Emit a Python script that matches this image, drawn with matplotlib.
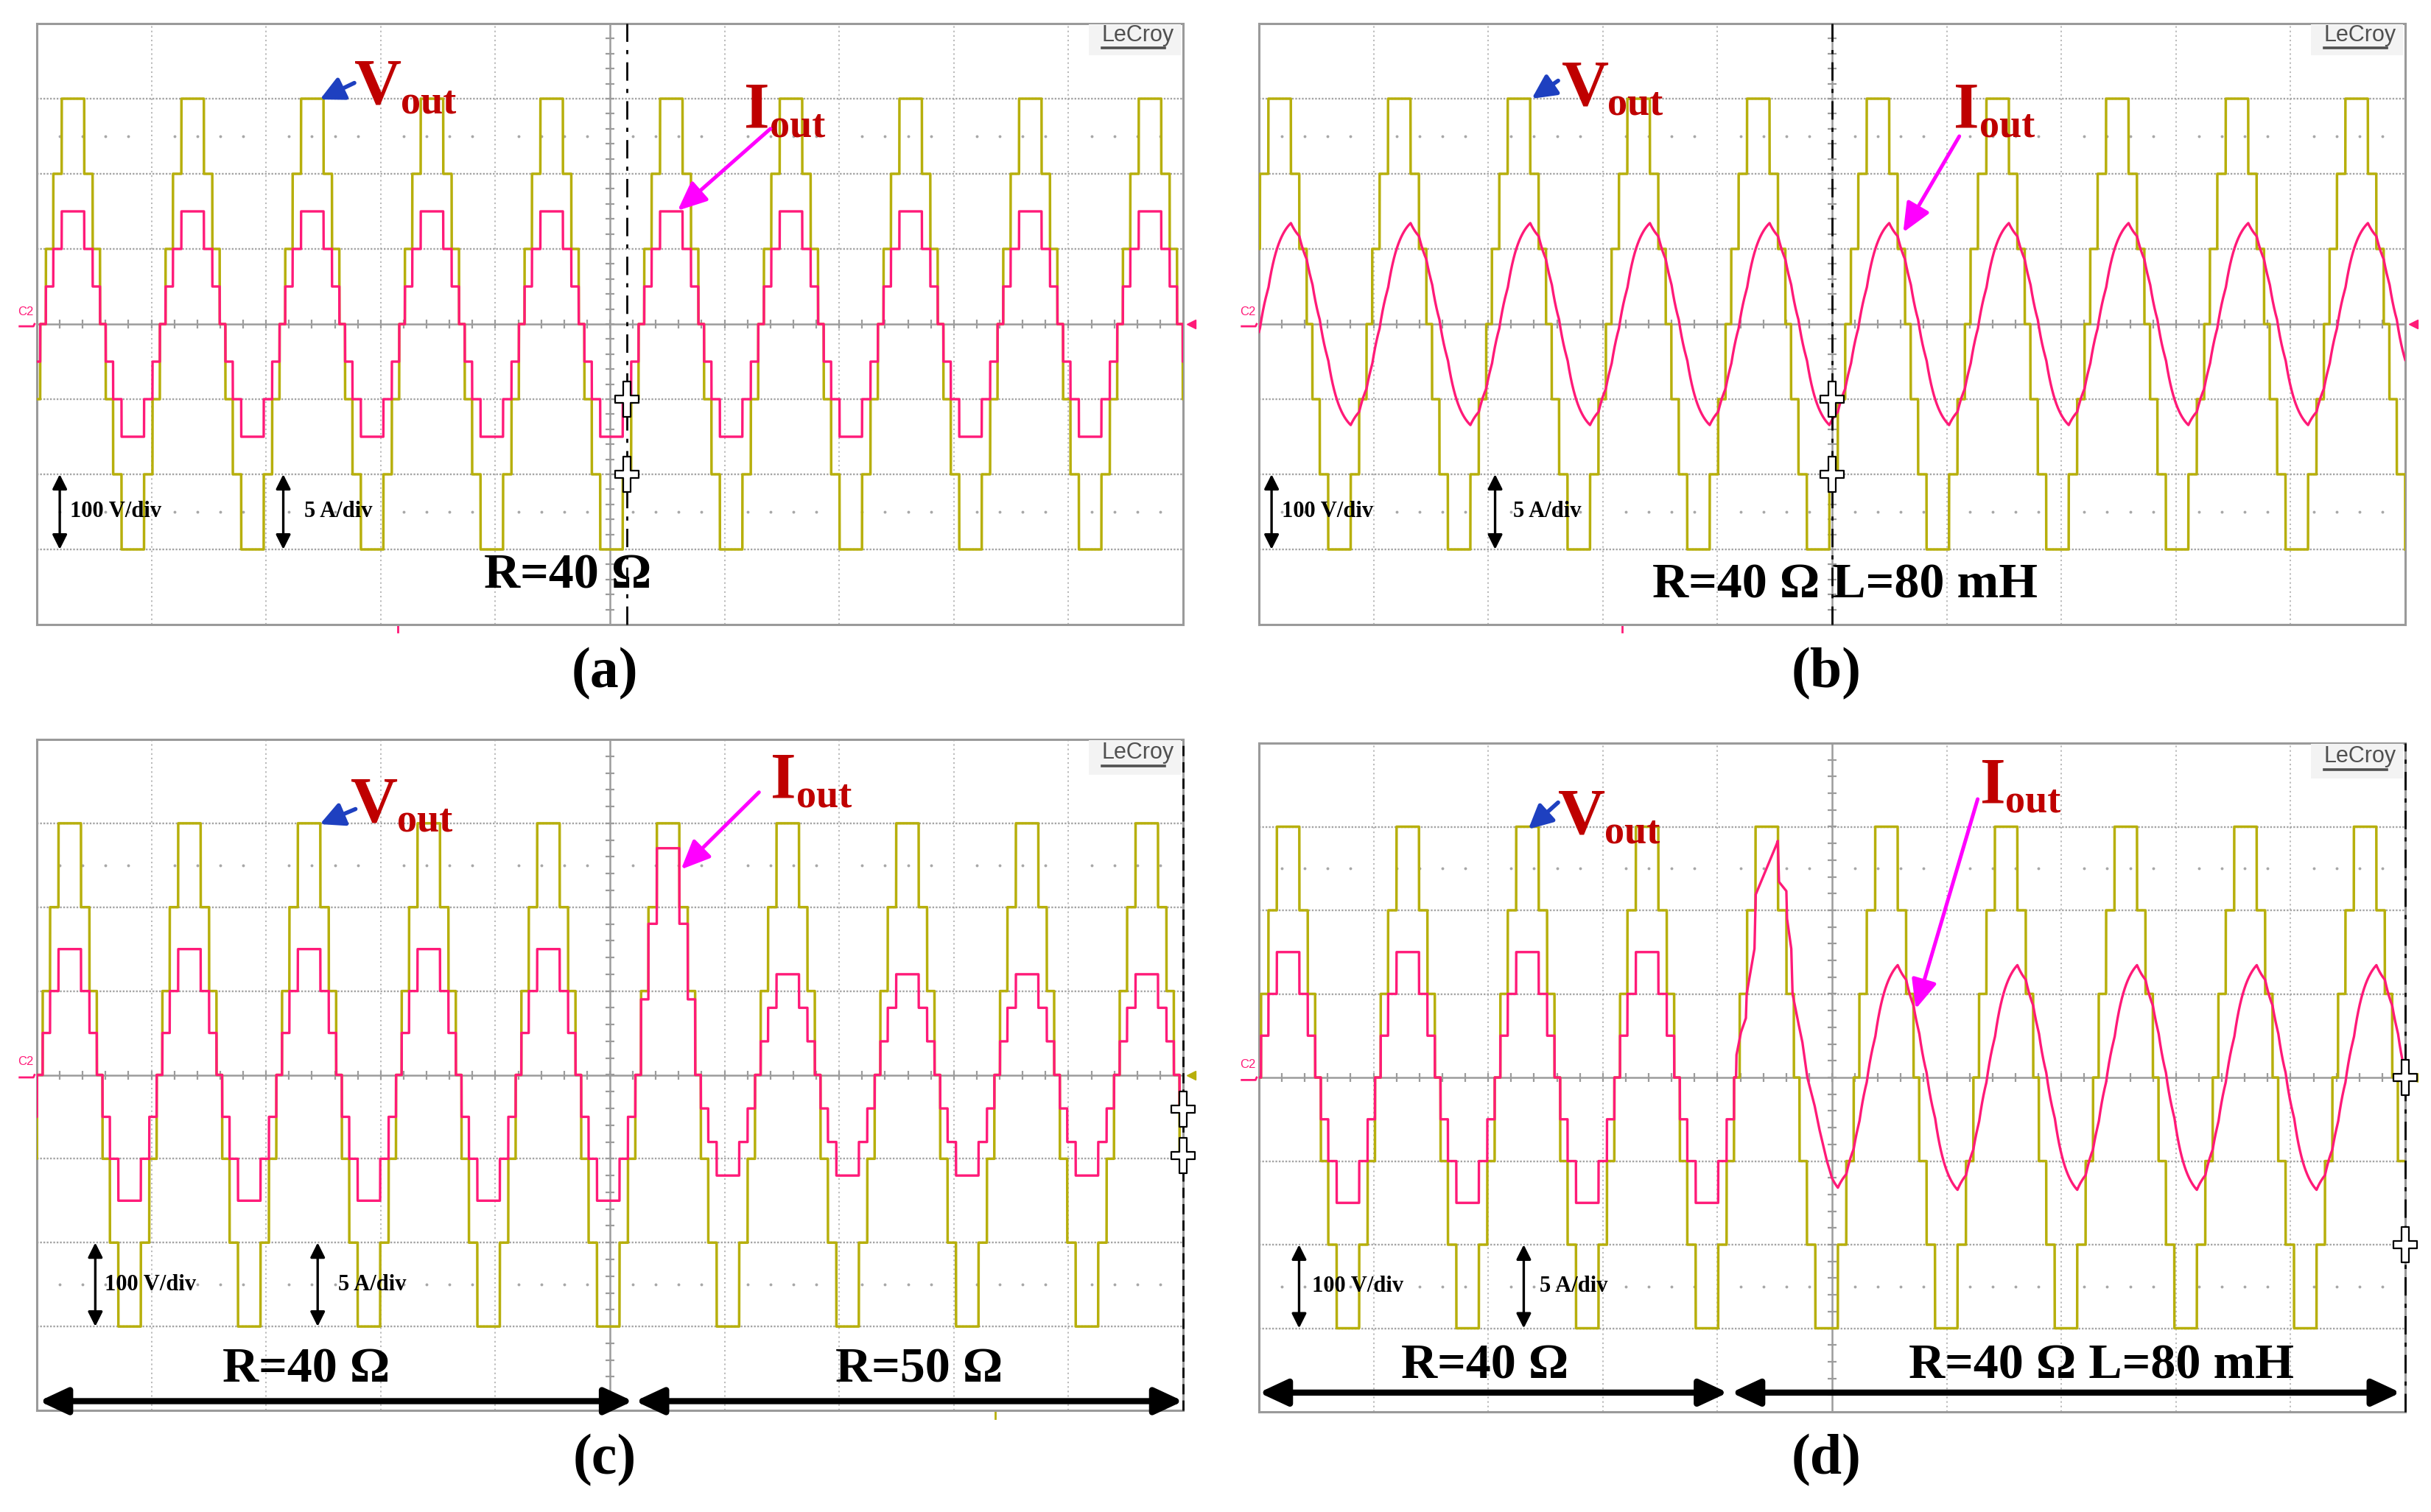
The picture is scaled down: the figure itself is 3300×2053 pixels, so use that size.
import numpy as np
import matplotlib
matplotlib.use("Agg")
import matplotlib.pyplot as plt
from matplotlib.path import Path
from matplotlib.patches import Rectangle

plt.rcParams['font.family'] = ['Liberation Serif', 'DejaVu Serif']

# ======================= DATA (oscilloscope screen divisions) =======================
PERIOD_DIV = 1.044                     # one fundamental period on screen (div)
SWITCH_ANGLES_DEG = [8.5, 30.8, 56.2]  # 7-level staircase switching angles
VOLT_STEP_V = 100.0                    # voltage per level (V)
V_PER_DIV = 100.0
A_PER_DIV = 5.0
FREQ_HZ = 50.0
L_MH = 80.0

PANEL_KEYS = ["a", "b", "c", "d"]
PANEL_LETTERS = ["(a)", "(b)", "(c)", "(d)"]
FIRST_PEAK_DIV = [0.315, 0.18, 0.287, 0.254]   # position of first positive Vout plateau

R_A = 40.0                     # (a) resistive load
R_B = 40.0                     # (b) R-L load
C_SEG_START_DIV = [0.0, 5.245, 5.767]   # (c) load change
C_SEG_R_OHM = [40.0, 22.2, 50.0]
R_D = 40.0                     # (d) R then R-L
D_TRANS_T_DIV = [4.162, 4.166, 4.205, 4.248, 4.255, 4.323, 4.334, 4.516, 4.526, 4.537,
                 4.601, 4.607, 4.644, 4.655, 4.709, 4.741, 4.784, 4.848, 4.891, 4.955, 4.998]
D_TRANS_I_DIV = [0.00, 0.27, 0.54, 0.71, 1.00, 1.54, 2.19, 2.79, 2.83, 2.34,
                 2.23, 1.90, 1.54, 1.00, 0.63, 0.42, 0.00, -0.34, -0.63, -1.00, -1.20]

LOAD_TEXTS = {"a": [("R=40 Ω", 4.63, -3.35)],
              "b": [("R=40 Ω L=80 mH", 5.11, -3.48)],
              "c": [("R=40 Ω", 2.35, -3.52), ("R=50 Ω", 7.70, -3.52)],
              "d": [("R=40 Ω", 1.97, -3.45), ("R=40 Ω L=80 mH", 7.35, -3.45)]}
SPAN_ARROWS = {"c": ([(0.02, 5.20), (5.22, 10.0)], -3.89),
               "d": ([(0.0, 4.09), (4.12, 9.96)], -3.77)}
SCALE_LABELS = ["100 V/div", "5 A/div"]
SCALE_ARROW_X = {"a": [0.20, 2.15], "b": [0.11, 2.06], "c": [0.51, 2.45], "d": [0.35, 2.31]}
SCALE_TEXT_X = {"a": [0.29, 2.33], "b": [0.20, 2.22], "c": [0.59, 2.63], "d": [0.46, 2.45]}
VOUT_POS = {"a": (2.77, 2.94), "b": (2.64, 2.92), "c": (2.74, 3.02), "d": (2.61, 2.92)}
VOUT_ARROW = {"a": ((2.77, 3.21), (2.47, 2.99)), "b": ((2.61, 3.24), (2.38, 3.00)),
              "c": ((2.78, 3.17), (2.47, 2.99)), "d": ((2.61, 3.29), (2.35, 2.97))}
IOUT_POS = {"a": (6.17, 2.62), "b": (6.06, 2.62), "c": (6.40, 3.31), "d": (6.29, 3.29)}
IOUT_ARROW = {"a": ((6.40, 2.60), (5.59, 1.51)), "b": ((6.11, 2.50), (5.62, 1.22)),
              "c": ((6.30, 3.37), (5.62, 2.45)), "d": ((6.27, 3.33), (5.73, 0.82))}
CURSOR_X = {"a": 5.15, "b": 5.0, "c": 10.0, "d": 10.0}
CURSOR_STYLE = {"a": (0, (9, 4, 2, 4)), "b": (0, (9, 4, 2, 4)), "c": (0, (5, 3)), "d": (0, (9, 4, 2, 4))}
CURSOR_CROSS_Y = {"a": [-1.0, -2.0], "b": [-1.0, -2.0], "c": [-0.41, -0.96], "d": [0.0, -2.0]}
TRIG_MARK = {"a": (3.15, "pink"), "b": (3.17, "pink"), "c": (8.36, "olive")}
ZERO_MARK_COLOR = {"a": "pink", "b": "pink", "c": "olive", "d": "olive"}

# ======================= STYLE / LAYOUT =======================
OLIVE = "#B7AF0C"
PINK = "#FF1A78"
LABEL_RED = "#BF0000"
BLUE = "#1E40C0"
MAGENTA = "#FF00FF"
COLS = {"olive": OLIVE, "pink": PINK}
FIG_W, FIG_H = 3300, 2053
AX_BOX = {"a": (50, 32, 1556, 816), "b": (1709, 32, 1556, 816),
          "c": (50, 1004, 1556, 911), "d": (1709, 1009, 1556, 908)}
LETTER_POS = {"a": (821, 915), "b": (2479, 915), "c": (821, 1983), "d": (2479, 1983)}

DT = 0.0005
T = np.arange(0.0, 10.0 + DT / 2, DT)


def staircase(t, t_peak):
    ph = ((t - t_peak) / PERIOD_DIV * 360.0 + 180.0) % 360.0 - 180.0
    a = np.abs(ph)
    lev = np.zeros_like(t)
    for th in SWITCH_ANGLES_DEG:
        lev += (a < 90.0 - th)
        lev -= (a > 90.0 + th)
    return lev * VOLT_STEP_V / V_PER_DIV


def rl_current(t, v_div, r_ohm, l_mh, i0):
    tau = l_mh * 1e-3 / r_ohm * FREQ_HZ * PERIOD_DIV
    k = np.exp(-(t[1] - t[0]) / tau)
    iss = v_div * V_PER_DIV / r_ohm / A_PER_DIV
    i = np.empty_like(t)
    i[0] = i0
    for n in range(1, len(t)):
        i[n] = i[n - 1] * k + iss[n - 1] * (1 - k)
    return i


def traces(key, t_peak):
    v = staircase(T, t_peak)
    if key == "a":
        return T, v, T, v * V_PER_DIV / R_A / A_PER_DIV
    if key == "b":
        tt = np.arange(-4 * PERIOD_DIV, 10.0 + DT / 2, DT)
        ii = rl_current(tt, staircase(tt, t_peak), R_B, L_MH, 0.0)
        m = tt >= 0
        return T, v, tt[m], ii[m]
    if key == "c":
        r = np.full_like(T, C_SEG_R_OHM[0])
        for s, rv in zip(C_SEG_START_DIV, C_SEG_R_OHM):
            r[T >= s] = rv
        return T, v, T, v * V_PER_DIV / r / A_PER_DIV
    # key == "d"
    t_pre = T[T < D_TRANS_T_DIV[0]]
    i_pre = staircase(t_pre, t_peak) * V_PER_DIV / R_D / A_PER_DIV
    t_post = np.arange(D_TRANS_T_DIV[-1], 10.0 + DT / 2, DT)
    i_post = rl_current(t_post, staircase(t_post, t_peak), R_D, L_MH, D_TRANS_I_DIV[-1])
    ti = np.concatenate([t_pre, D_TRANS_T_DIV, t_post[1:]])
    ii = np.concatenate([i_pre, D_TRANS_I_DIV, i_post[1:]])
    return T, v, ti, ii


aw = 0.30
CROSS = Path([(-aw, 1.45), (aw, 1.45), (aw, aw), (1, aw), (1, -aw), (aw, -aw), (aw, -1.45),
              (-aw, -1.45), (-aw, -aw), (-1, -aw), (-1, aw), (-aw, aw), (-aw, 1.45)], closed=True)

fig = plt.figure(figsize=(FIG_W / 100, FIG_H / 100), dpi=100)

for idx, key in enumerate(PANEL_KEYS):
    x0, y0, w, h = AX_BOX[key]
    ax = fig.add_axes([x0 / FIG_W, 1 - (y0 + h) / FIG_H, w / FIG_W, h / FIG_H])
    ax.set_xlim(0, 10)
    ax.set_ylim(-4, 4)
    ax.set_xticks([])
    ax.set_yticks([])
    for s in ax.spines.values():
        s.set_color("#9a9a9a")
        s.set_linewidth(2.2)

    # graticule
    for gx in range(1, 10):
        if gx != 5:
            ax.axvline(gx, color="#b4b4b4", lw=1.3, ls=(0, (1.2, 2.2)), zorder=1)
    for gy in [-3, -2, -1, 1, 2, 3]:
        ax.axhline(gy, color="#a4a4a4", lw=1.7, ls=(0, (1, 0.9)), zorder=1)
    sx = np.array([x for x in np.arange(0.2, 10.0, 0.2) if abs(x - round(x)) > 1e-6])
    for gy in (-2.5, 2.5):
        ax.plot(sx, np.full_like(sx, gy), ls="none", marker="o", ms=1.8, color="#a8a8a8", zorder=1)
    ax.axhline(0, color="#9c9c9c", lw=1.8, zorder=1.5)
    ax.axvline(5, color="#9c9c9c", lw=1.8, zorder=1.5)
    tx = np.arange(0.2, 10.0, 0.2)
    ax.plot(tx, np.zeros_like(tx), ls="none", marker="|", ms=9, mew=1.6, color="#9c9c9c", zorder=1.5)
    ty = np.arange(-3.8, 3.9, 0.2)
    ax.plot(np.full_like(ty, 5.0), ty, ls="none", marker="_", ms=9, mew=1.6, color="#9c9c9c", zorder=1.5)

    # traces
    tv, v, ti, ii = traces(key, FIRST_PEAK_DIV[idx])
    ax.plot(tv, v, color=OLIVE, lw=2.5, zorder=3)
    ax.plot(ti, ii, color=PINK, lw=2.4, zorder=4)

    # LeCroy logo
    ax.add_patch(Rectangle((9.18, 3.58), 0.80, 0.41, facecolor="#f3f3f3", edgecolor="none", zorder=5))
    ax.text(9.29, 3.84, "LeCroy", family="Liberation Sans", fontsize=22, color="#505050",
            ha="left", va="center", zorder=6)
    ax.plot([9.29, 9.84], [3.68, 3.68], color="#505050", lw=2.6, zorder=6)

    # C2 marker and right zero marker
    ax.text(-0.10, 0.09, "C2", family="Liberation Sans", fontsize=12, color=PINK,
            ha="center", va="bottom", clip_on=False)
    ax.plot([-0.15, -0.03, -0.02], [-0.03, -0.03, 0.0], color=PINK, lw=2.0, clip_on=False)
    ax.plot([10.07], [0.0], marker="<", ms=8, color=COLS[ZERO_MARK_COLOR[key]], clip_on=False, ls="none")
    if key in TRIG_MARK:
        mx, mc = TRIG_MARK[key]
        ax.plot([mx, mx], [-4.0, -4.1], color=COLS[mc], lw=2.0, clip_on=False)

    # cursor line and crosses
    ax.axvline(CURSOR_X[key], color="black", lw=2.0, ls=CURSOR_STYLE[key], zorder=6, clip_on=False)
    cy = CURSOR_CROSS_Y[key]
    ax.plot([CURSOR_X[key]] * len(cy), cy, ls="none", marker=CROSS, ms=34, mfc="white",
            mec="black", mew=1.6, zorder=7, clip_on=False)

    # scale arrows / labels
    for xa, xt, lab in zip(SCALE_ARROW_X[key], SCALE_TEXT_X[key], SCALE_LABELS):
        ax.annotate("", xy=(xa, -2.0), xytext=(xa, -3.0),
                    arrowprops=dict(arrowstyle="<|-|>,head_length=0.6,head_width=0.3",
                                    color="black", lw=2.4, mutation_scale=20, shrinkA=0, shrinkB=0),
                    zorder=8)
        ax.text(xt, -2.5, lab, fontsize=22, fontweight="bold", ha="left", va="center", zorder=8)

    # load texts
    for txt, lx, ly in LOAD_TEXTS[key]:
        ax.text(lx, ly, txt, fontsize=49, fontweight="bold", ha="center", va="center", zorder=8)
    if key in SPAN_ARROWS:
        spans, sy = SPAN_ARROWS[key]
        for sa, sb in spans:
            ax.annotate("", xy=(sb, sy), xytext=(sa, sy), annotation_clip=False,
                        arrowprops=dict(arrowstyle="<|-|>,head_length=0.58,head_width=0.27",
                                        color="black", lw=6, mutation_scale=40, shrinkA=0, shrinkB=0),
                        zorder=8)

    # Vout / Iout labels
    vx, vy = VOUT_POS[key]
    ax.text(vx, vy, "V", fontsize=64, fontweight="bold", color=LABEL_RED, ha="left", va="baseline", zorder=9)
    ax.annotate("out", xy=(vx, vy), xytext=(45, -9.5), textcoords="offset points", fontsize=39,
                fontweight="bold", color=LABEL_RED, ha="left", va="baseline", zorder=9)
    (a0, a1) = VOUT_ARROW[key]
    ax.annotate("", xy=a1, xytext=a0,
                arrowprops=dict(arrowstyle="-|>,head_length=0.7,head_width=0.35", color=BLUE,
                                lw=4, mutation_scale=28, shrinkA=0, shrinkB=0), zorder=9)
    ix, iy = IOUT_POS[key]
    ax.text(ix, iy, "I", fontsize=64, fontweight="bold", color=LABEL_RED, ha="left", va="baseline", zorder=9)
    ax.annotate("out", xy=(ix, iy), xytext=(25, -9.5), textcoords="offset points", fontsize=39,
                fontweight="bold", color=LABEL_RED, ha="left", va="baseline", zorder=9)
    (b0, b1) = IOUT_ARROW[key]
    ax.annotate("", xy=b1, xytext=b0,
                arrowprops=dict(arrowstyle="-|>,head_length=0.8,head_width=0.35", color=MAGENTA,
                                lw=3.6, mutation_scale=30, shrinkA=0, shrinkB=0), zorder=9)

    lx, ly = LETTER_POS[key]
    fig.text(lx / FIG_W, 1 - ly / FIG_H, PANEL_LETTERS[idx], fontsize=56, fontweight="bold",
             ha="center", va="center")

fig.savefig("out.png", dpi=100, facecolor="white")
